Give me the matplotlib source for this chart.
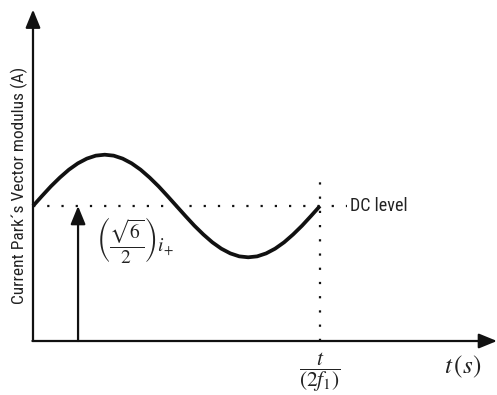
import matplotlib
matplotlib.use("Agg")
import matplotlib.pyplot as plt

plt.rcParams['mathtext.fontset'] = 'stix'

# one period of the current modulus, time in units of the period, value in units of DC level
t_vals = [i / 32 for i in range(33)]
modulus = [1.0, 1.074, 1.146, 1.211, 1.269, 1.316, 1.351, 1.373, 1.38,
           1.373, 1.351, 1.316, 1.269, 1.211, 1.146, 1.074, 1.0,
           0.926, 0.854, 0.789, 0.731, 0.684, 0.649, 0.627, 0.62,
           0.627, 0.649, 0.684, 0.731, 0.789, 0.854, 0.926, 1.0]
dc_level = 1.0
t_end = 1.0
arrow_t = 0.157

fig = plt.figure(figsize=(4.97, 3.95), dpi=100)
ax = fig.add_axes([0, 0, 1, 1])
ax.set_xlim(-0.115, 1.617)
ax.set_ylim(-0.4, 2.526)
ax.axis('off')

label_font = ['Roboto Condensed', 'Liberation Sans Narrow', 'Roboto', 'DejaVu Sans']

# axes with arrow heads
ax.annotate('', xy=(0, 2.455), xytext=(0, 0),
            arrowprops=dict(arrowstyle='-|>,head_length=1.1,head_width=0.45',
                            lw=1.6, color='#111111', shrinkA=0, shrinkB=0))
ax.annotate('', xy=(1.617, 0), xytext=(-0.002, 0),
            arrowprops=dict(arrowstyle='-|>,head_length=1.1,head_width=0.45',
                            lw=1.6, color='#111111', shrinkA=0, shrinkB=0))

# DC level and half-period markers
ax.plot([0, 1.095], [dc_level, dc_level], color='#111111', lw=1.6,
        linestyle=(0, (1, 5.4)), dash_capstyle='butt')
ax.plot([t_end, t_end], [0, 1.21], color='#111111', lw=1.6,
        linestyle=(0, (1, 5.4)), dash_capstyle='butt')

# the ripple
ax.plot(t_vals, modulus, color='#111111', lw=2.7, solid_capstyle='butt')

# amplitude arrow
ax.annotate('', xy=(arrow_t, dc_level), xytext=(arrow_t, 0),
            arrowprops=dict(arrowstyle='-|>,head_length=1.1,head_width=0.45',
                            lw=1.6, color='#111111', shrinkA=0, shrinkB=0))

ax.text(0.22, 0.745, r'$\left(\dfrac{\sqrt{6}}{2}\right)i_{+}$', fontsize=14,
        ha='left', va='center', color='#222222')
ax.text(1.105, dc_level, 'DC level', fontsize=13, family=label_font,
        ha='left', va='center', color='#222222')
ax.text(t_end, -0.232, r'$\dfrac{t}{\left(2f_1\right)}$', fontsize=15.5,
        ha='center', va='center', color='#222222')
ax.text(1.498, -0.19, r'$t\,\left(s\right)$', fontsize=18,
        ha='center', va='center', color='#222222')
ax.text(-0.049, 1.156, 'Current Park\u00b4s Vector modulus (A)', fontsize=12.5,
        family=label_font, rotation=90, ha='center', va='center', color='#222222')

fig.savefig('out.png', dpi=100)
